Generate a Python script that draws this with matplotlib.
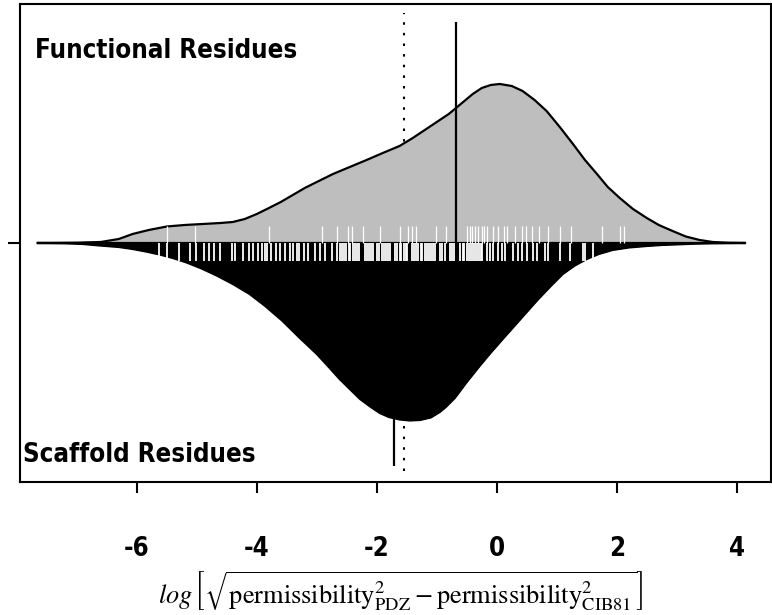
import numpy as np
import matplotlib.pyplot as plt

# bean outlines: x positions and kernel density heights
x_functional = [-7.65, -7.0, -6.6, -6.3, -6.07, -5.8, -5.5, -5.2, -4.9, -4.6,
                -4.4, -4.2, -4.0, -3.83, -3.6, -3.4, -3.2, -3.0, -2.73, -2.45,
                -2.17, -1.9, -1.62, -1.4, -1.2, -1.0, -0.8, -0.6, -0.4, -0.25,
                -0.1, 0.05, 0.25, 0.43, 0.63, 0.83, 1.05, 1.27, 1.47, 1.67,
                1.85, 2.05, 2.27, 2.5, 2.7, 2.93, 3.15, 3.38, 3.6, 3.85, 4.13]
dens_functional = [0, .0006, .002, .008, .018, .026, .033, .036, .038, .040,
                   .042, .048, .058, .068, .082, .096, .110, .122, .138, .152,
                   .166, .180, .194, .210, .226, .242, .258, .278, .298, .310,
                   .316, .318, .314, .304, .286, .264, .232, .198, .166, .138,
                   .112, .090, .068, .050, .036, .024, .013, .006, .002, .0006, 0]

x_scaffold = [-7.65, -7.2, -6.9, -6.62, -6.3, -6.07, -5.85, -5.62, -5.4, -5.17,
              -4.92, -4.67, -4.4, -4.12, -3.85, -3.57, -3.3, -3.0, -2.8, -2.62,
              -2.45, -2.28, -2.1, -1.95, -1.8, -1.62, -1.45, -1.28, -1.1, -0.95,
              -0.85, -0.7, -0.6, -0.5, -0.3, -0.12, 0.07, 0.27, 0.47, 0.67,
              0.9, 1.1, 1.3, 1.5, 1.7, 1.93, 2.2, 2.5, 2.75, 3.05,
              3.3, 3.6, 4.13]
dens_scaffold = [0, .0006, .002, .005, .008, .012, .017, .023, .030, .039,
                 .051, .065, .082, .102, .127, .156, .188, .222, .248, .272,
                 .292, .312, .328, .340, .348, .353, .355, .354, .349, .338,
                 .328, .310, .294, .278, .248, .222, .196, .169, .142, .115,
                 .086, .062, .045, .032, .022, .014, .009, .006, .004, .0026,
                 .0014, .0006, 0]

# individual observations (bean lines)
obs_functional = [-5.50, -5.03, -3.80, -2.92, -2.67, -2.48, -2.42, -2.23, -1.95, -1.62,
                  -1.48, -1.42, -1.35, -1.02, -0.85, -0.50, -0.45, -0.42, -0.37, -0.32,
                  -0.25, -0.22, -0.17, -0.07, 0.02, 0.12, 0.17, 0.30, 0.42, 0.48,
                  0.58, 0.70, 0.85, 1.05, 1.23, 1.75, 2.05, 2.12]
obs_scaffold = [-5.63, -5.50, -5.30, -5.12, -5.02, -4.88, -4.80, -4.72, -4.62, -4.42,
                -4.37, -4.23, -4.13, -4.07, -3.98, -3.92, -3.87, -3.83, -3.77, -3.68,
                -3.62, -3.53, -3.45, -3.40, -3.33, -3.30, -3.22, -3.15, -3.03, -2.95,
                -2.87, -2.75, -2.67,
                -2.62, -2.58, -2.55, -2.51, -2.47, -2.44, -2.40, -2.36, -2.33, -2.30,
                -2.20, -2.17, -2.13, -2.10, -2.07, -1.99, -1.96, -1.92, -1.88, -1.85,
                -1.81, -1.78, -1.69, -1.66, -1.62, -1.59, -1.55, -1.52, -1.49, -1.41,
                -1.38, -1.34, -1.31, -1.27, -1.24, -1.20, -1.17, -1.13, -1.10, -1.06,
                -1.03, -0.94, -0.91, -0.87, -0.78, -0.74, -0.71, -0.61, -0.57, -0.54,
                -0.50, -0.47, -0.43, -0.40, -0.36, -0.33, -0.30, -0.27, -0.24,
                -0.17, -0.12, -0.07, 0.02, 0.08, 0.13, 0.27, 0.35, 0.42, 0.50,
                0.60, 0.67, 0.80, 0.85, 1.05, 1.22, 1.43, 1.47, 1.60]

median_functional = -0.68
median_scaffold = -1.72
overall_mean = -1.55

xticks = [-6, -4, -2, 0, 2, 4]

plt.rcParams['font.family'] = ['DejaVu Sans']
plt.rcParams['font.stretch'] = 'condensed'
plt.rcParams['mathtext.fontset'] = 'stix'

fig = plt.figure(figsize=(7.72, 6.15), dpi=100)
ax = fig.add_axes([0.0265, 0.2163, 0.9725, 0.7772])

x_f = np.array(x_functional)
d_f = np.array(dens_functional)
x_s = np.array(x_scaffold)
d_s = -np.array(dens_scaffold)

# overall mean, drawn behind the beans
ax.vlines(overall_mean, -0.456, 0.46, colors='black', lw=1.5,
          linestyles=(0, (1.2, 3.9)), zorder=1)

ax.fill_between(x_f, 0, d_f, color='#bebebe', lw=0, zorder=2)
ax.fill_between(x_s, d_s, 0, color='black', lw=0, zorder=2)
ax.plot(x_f, d_f, color='black', lw=1.6, zorder=3)
ax.plot(x_s, d_s, color='black', lw=1.6, zorder=3)
ax.plot([x_f[0], x_f[-1]], [0, 0], color='black', lw=1.6, zorder=3)

ax.vlines(obs_functional, 0, 0.034, colors='white', lw=0.9, zorder=4)
ax.vlines(obs_scaffold, -0.036, 0, colors='white', lw=1.3, zorder=4)

ax.vlines(median_functional, 0, 0.442, colors='black', lw=1.6, zorder=5)
ax.vlines(median_scaffold, -0.446, 0, colors='black', lw=1.6, zorder=1.5)

ax.text(-7.69, 0.37, 'Functional Residues', fontsize=18.5, fontweight='bold',
        fontstretch='condensed', ha='left', va='baseline')
ax.text(-7.89, -0.438, 'Scaffold Residues', fontsize=18.5, fontweight='bold',
        fontstretch='condensed', ha='left', va='baseline')

ax.set_xlim(-7.94, 4.575)
ax.set_ylim(-0.478, 0.478)
ax.set_xticks(xticks)
ax.set_xticklabels([str(t) for t in xticks], fontsize=18.5, fontweight='bold',
                   fontstretch='condensed')
ax.set_yticks([0])
ax.set_yticklabels([''])
ax.tick_params(axis='x', length=8, width=1.5, pad=31)
ax.tick_params(axis='y', length=9, width=1.5)
for s in ax.spines.values():
    s.set_linewidth(1.5)

ax.set_xlabel(r'$\mathit{log}\,\left[\sqrt{\mathrm{permissibility}^2_{\mathrm{PDZ}}'
              r' - \mathrm{permissibility}^2_{\mathrm{CIB81}}}\right]$',
              fontsize=19)
ax.xaxis.set_label_coords(0.506, -0.184)

fig.savefig('out.png', dpi=100)
